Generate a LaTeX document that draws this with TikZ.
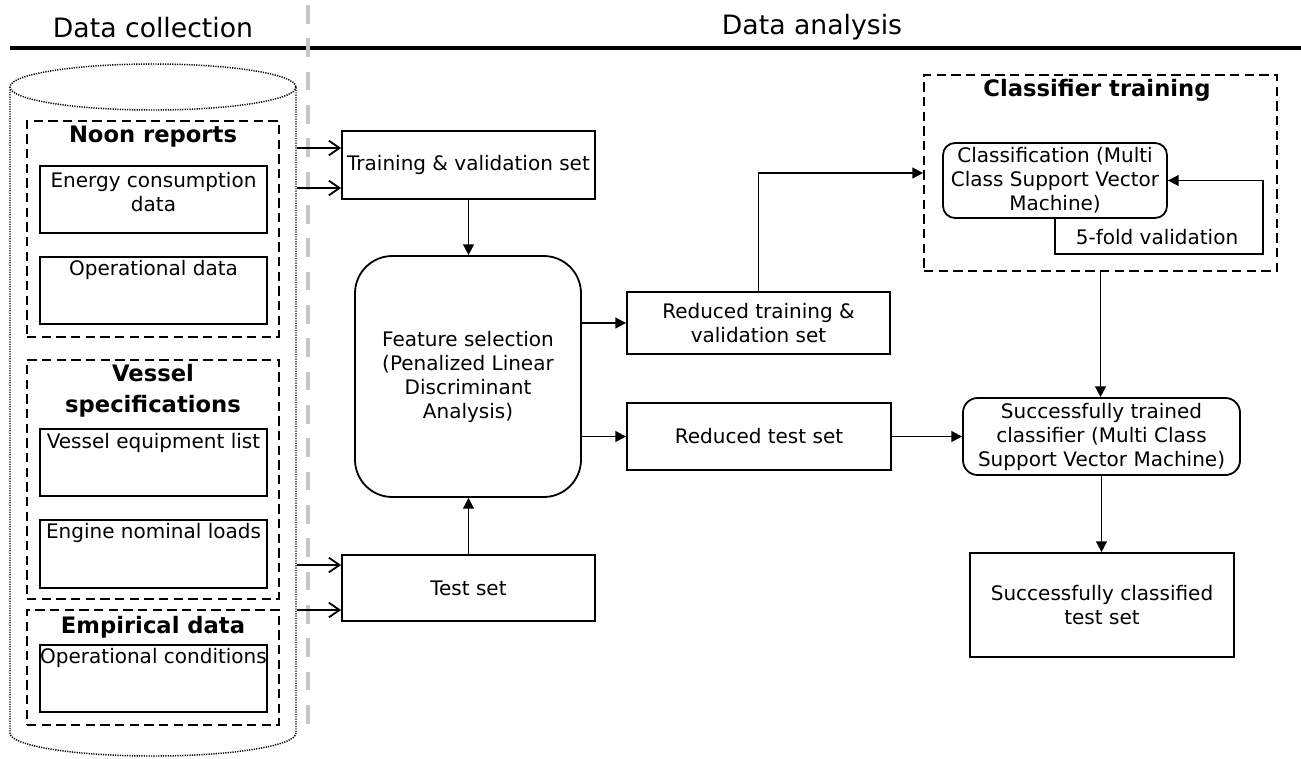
\documentclass[tikz,border=0pt]{standalone}
\usepackage{fontspec}
\setmainfont{DejaVu Sans}
\usetikzlibrary{arrows.meta}
\begin{document}
\begin{tikzpicture}[x=0.75pt,y=-0.75pt,
  body/.style={font=\fontsize{15}{18}\selectfont, inner sep=0pt, align=center},
  ttl/.style={font=\fontsize{17}{23}\selectfont\bfseries, inner sep=0pt, align=center},
  hdr/.style={font=\fontsize{20}{24}\selectfont, inner sep=0pt},
  box/.style={draw, line width=1.35pt, inner sep=0pt, align=center, font=\fontsize{15}{18}\selectfont},
  grp/.style={draw, line width=1.35pt, dash pattern=on 7pt off 4pt, inner sep=0pt},
  arr/.style={line width=1.35pt, -{Triangle[length=8pt,width=8pt]}},
  oarr/.style={line width=1.35pt, -{Straight Barb[length=8pt,width=11pt]}},
  cyl/.style={line width=1.1pt, dash pattern=on 0.9pt off 0.9pt},
]
\useasboundingbox (0,0) rectangle (1301,758);
% headers
\node[hdr] (h1) at (153,28) {Data collection};
\node[hdr] (h2) at (812,27) {Data analysis};
\draw[line width=3pt] (10,48) -- (1301,48);
\draw[black!22, line width=3pt, dash pattern=on 14pt off 11pt] (308,5) -- (308,730);
% cylinder
\draw[cyl] (153,87) ellipse [x radius=143, y radius=23];
\draw[cyl] (10,87) -- (10,733) .. controls (10,745.7) and (74,756) .. (153,756)
  .. controls (232,756) and (296,745.7) .. (296,733) -- (296,87);
% noon reports
\node[grp, minimum width=189pt, minimum height=162pt] (noon) at (153,229) {};
\node[ttl] (noont) at (153,137) {Noon reports};
\node[box, minimum width=170.25pt, minimum height=50.25pt] (ec) at (153.5,199.5) {};
\node[body] (ect) at (153.5,192.5) {Energy consumption\\data};
\node[box, minimum width=170.25pt, minimum height=50.25pt] (od) at (153.5,290.5) {};
\node[body] (odt) at (153.5,270) {Operational data};
% vessel specifications
\node[grp, minimum width=189pt, minimum height=179.25pt] (ves) at (153,479.5) {};
\node[ttl] (vest) at (153,391) {Vessel\\specifications};
\node[box, minimum width=170.25pt, minimum height=50.25pt] (vel) at (153.5,462.5) {};
\node[body] (velt) at (153.5,443) {Vessel equipment list};
\node[box, minimum width=170.25pt, minimum height=51pt] (enl) at (153.5,554) {};
\node[body] (enlt) at (153.5,533) {Engine nominal loads};
% empirical data
\node[grp, minimum width=189pt, minimum height=86.25pt] (emp) at (153,667.5) {};
\node[ttl] (empt) at (153,627) {Empirical data};
\node[box, minimum width=170.25pt, minimum height=50.25pt] (oc) at (153.5,678.5) {};
\node[body] (oct) at (153.5,658) {Operational conditions};
% analysis
\node[box, minimum width=189.75pt, minimum height=51pt] (trn) at (468.5,165) {Training \& validation set};
\node[box, rounded corners=28pt, minimum width=169.5pt, minimum height=180.75pt] (feat) at (468,376.5) {Feature selection\\(Penalized Linear\\Discriminant\\Analysis)};
\node[box, minimum width=189.75pt, minimum height=49.5pt] (test) at (468.5,588) {Test set};
\node[box, minimum width=197.25pt, minimum height=46.5pt] (rtr) at (758.5,323) {Reduced training \&\\validation set};
\node[box, minimum width=198pt, minimum height=50.25pt] (rte) at (759,436.5) {Reduced test set};
\node[grp, minimum width=264.75pt, minimum height=147pt] (ctr) at (1100.5,173) {};
\node[ttl] (ctrt) at (1097,90) {Classifier training};
\node[box, rounded corners=9pt, minimum width=168pt, minimum height=56.25pt] (cls) at (1055,180.5) {Classification (Multi\\Class Support Vector\\Machine)};
\node[body] (foldt) at (1157,237) {5-fold validation};
\node[box, rounded corners=11pt, minimum width=207.75pt, minimum height=57.75pt] (trained) at (1101.5,436.5) {Successfully trained\\classifier (Multi Class\\Support Vector Machine)};
\node[box, minimum width=198pt, minimum height=78pt] (cld) at (1102,605) {Successfully classified\\test set};
% connectors
\coordinate (c1) at (297,148);
\coordinate (c2) at (297,188);
\coordinate (c3) at (297,565);
\coordinate (c4) at (297,610);
\draw[oarr] (c1) -- (c1 -| trn.west);
\draw[oarr] (c2) -- (c2 -| trn.west);
\draw[oarr] (c3) -- (c3 -| test.west);
\draw[oarr] (c4) -- (c4 -| test.west);
\draw[arr] (trn.south) -- (trn.south |- feat.north);
\draw[arr] (test.north) -- (test.north |- feat.south);
\draw[arr] (feat.east |- rtr.west) -- (rtr.west);
\draw[arr] (feat.east |- rte.west) -- (rte.west);
\draw[arr] (rtr.north) |- (ctr.west);
\draw[arr] (rte.east) -- (trained.west);
\draw[arr] (ctr.south) -- (ctr.south |- trained.north);
\draw[arr] (trained.south) -- (trained.south |- cld.north);
\draw[arr] (cls.south) -- (1055,254) -- (1263,254) -- (1263,0 |- cls.east) -- (cls.east);
\end{tikzpicture}
\end{document}
